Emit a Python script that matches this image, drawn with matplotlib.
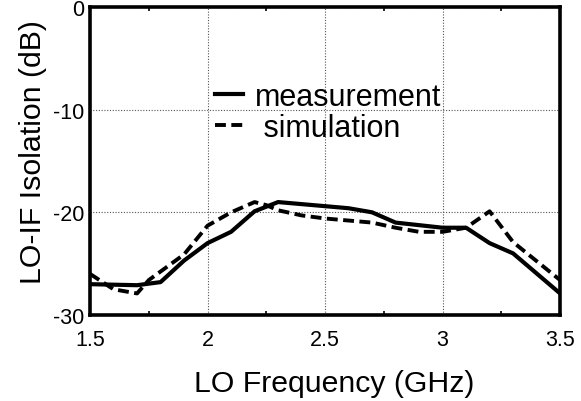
import matplotlib
matplotlib.use("Agg")
import matplotlib.pyplot as plt
from matplotlib.ticker import MultipleLocator

plt.rcParams['font.family'] = ['Liberation Sans', 'DejaVu Sans']
plt.rcParams['axes.unicode_minus'] = False

# measured LO-IF isolation
meas_freq = [1.5, 1.7, 1.8, 1.9, 2.0, 2.1, 2.2, 2.3, 2.5, 2.6, 2.7, 2.8, 3.0, 3.1, 3.2, 3.3, 3.5]
meas_db = [-27.0, -27.1, -26.8, -24.7, -23.0, -21.9, -19.9, -19.0, -19.4, -19.6, -20.0, -21.0,
           -21.5, -21.5, -23.0, -24.0, -27.9]

# simulated LO-IF isolation
sim_freq = [1.5, 1.6, 1.7, 1.75, 1.9, 2.0, 2.1, 2.2, 2.25, 2.3, 2.4, 2.5, 2.7, 2.8, 2.9, 3.0,
            3.1, 3.2, 3.3, 3.5]
sim_db = [-26.0, -27.5, -27.9, -26.6, -24.1, -21.3, -20.0, -19.0, -19.3, -19.8, -20.3, -20.6,
          -21.0, -21.5, -21.9, -21.9, -21.5, -19.9, -22.9, -26.6]

x_ticks = [1.5, 2, 2.5, 3, 3.5]
x_tick_labels = ['1.5', '2', '2.5', '3', '3.5']
y_ticks = [-30, -20, -10, 0]

fig = plt.figure(figsize=(5.81, 4.02), dpi=100)
ax = fig.add_axes([0.155, 0.214, 0.809, 0.766])

ax.plot(meas_freq, meas_db, color='black', lw=3.0, label='measurement', solid_joinstyle='round')
ax.plot(sim_freq, sim_db, color='black', lw=2.8, linestyle=(0, (2.8, 1.4)), label=' simulation')

ax.set_xlim(1.5, 3.5)
ax.set_ylim(-30, 0)
ax.set_xticks(x_ticks)
ax.set_xticklabels(x_tick_labels)
ax.set_yticks(y_ticks)
ax.xaxis.set_minor_locator(MultipleLocator(0.25))
ax.tick_params(which='major', length=0, labelsize=15.5)
ax.tick_params(axis='x', which='major', pad=10)
ax.tick_params(axis='y', which='major', pad=4)
ax.tick_params(which='minor', direction='in', length=3, width=1.2, top=True, bottom=True)

ax.grid(True, which='major', color='#555555', linestyle=(0, (1, 1.5)), linewidth=0.8)
for side in ax.spines.values():
    side.set_linewidth(2.6)

ax.set_xlabel('LO Frequency (GHz)', fontsize=21.8)
ax.xaxis.set_label_coords(0.519, -0.175)
ax.set_ylabel('LO-IF Isolation (dB)', fontsize=21.8)
ax.yaxis.set_label_coords(-0.092, 0.532)

ax.legend(loc='upper left', bbox_to_anchor=(0.265, 0.758), frameon=False, fontsize=22,
          handlelength=0.92, handletextpad=0.4, labelspacing=0.05, borderpad=0, borderaxespad=0)

fig.savefig('out.png', dpi=100)
